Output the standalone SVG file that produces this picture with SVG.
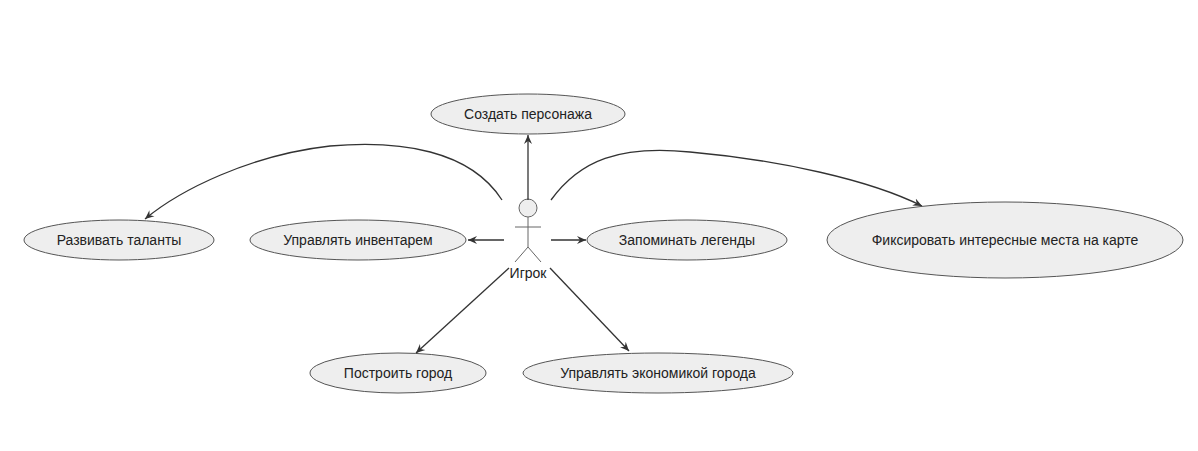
<svg xmlns="http://www.w3.org/2000/svg" width="1198" height="451" viewBox="0 0 1198 451">
<style>
.uc{fill:#eeeeee;stroke:#555;stroke-width:1}
.t{font-family:"Liberation Sans",Arial,sans-serif;font-size:14px;fill:#222;text-anchor:middle}
.c{fill:none;stroke:#333;stroke-width:1.3}
.a{stroke:#666;fill:#eee;stroke-width:1}
</style>
<defs><marker id="m" markerWidth="10" markerHeight="10" refX="9" refY="5" orient="auto" markerUnits="userSpaceOnUse"><path d="M0,1 L9,5 L0,9 L3,5 Z" fill="#333"/></marker></defs>
<rect width="1198" height="451" fill="#fff"/>
<g id="actor">
<circle class="a" cx="528" cy="208" r="9"/>
<path class="a" d="M515,227 H541 M528,217 V247 M528,247 L515,262 M528,247 L541,262" fill="none"/>
<text class="t" x="528" y="278">Игрок</text>
</g>
<g id="uc1"><ellipse class="uc" cx="528" cy="114" rx="97" ry="20"/><text class="t" x="528" y="119">Создать персонажа</text></g>
<g id="uc2"><ellipse class="uc" cx="119" cy="240" rx="95" ry="20"/><text class="t" x="119" y="245">Развивать таланты</text></g>
<g id="uc3"><ellipse class="uc" cx="358" cy="240" rx="108" ry="20"/><text class="t" x="358" y="245">Управлять инвентарем</text></g>
<g id="uc4"><ellipse class="uc" cx="687" cy="240" rx="100" ry="20"/><text class="t" x="687" y="245">Запоминать легенды</text></g>
<g id="uc5"><ellipse class="uc" cx="1005" cy="240" rx="178" ry="38"/><text class="t" x="1005" y="245">Фиксировать интересные места на карте</text></g>
<g id="uc6"><ellipse class="uc" cx="398" cy="373" rx="88" ry="20"/><text class="t" x="398" y="378">Построить город</text></g>
<g id="uc7"><ellipse class="uc" cx="658" cy="373" rx="135" ry="20"/><text class="t" x="658" y="378">Управлять экономикой города</text></g>
<g id="connectors">
<path class="c" marker-end="url(#m)" d="M528,200 V135"/>
<path class="c" marker-end="url(#m)" d="M504,240 H468"/>
<path class="c" marker-end="url(#m)" d="M551,240 H586"/>
<path class="c" marker-end="url(#m)" d="M502,200 C470,150 400,140 330,146 C250,155 180,190 145,219"/>
<path class="c" marker-end="url(#m)" d="M551,200 C580,160 620,145 690,152 C780,160 870,180 922,206"/>
<path class="c" marker-end="url(#m)" d="M509,268 L416,353"/>
<path class="c" marker-end="url(#m)" d="M550,268 L629,351"/>
</g>
</svg>
